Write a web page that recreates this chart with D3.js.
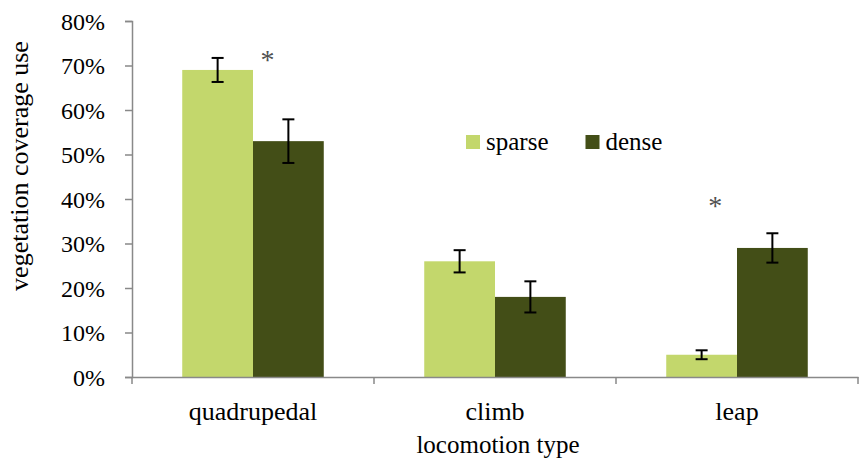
<!DOCTYPE html>
<html>
<head>
<meta charset="utf-8">
<script src="https://cdn.jsdelivr.net/npm/d3@7/dist/d3.min.js"></script>
</head>
<body style="margin:0; background:#fff">
<svg id="chart" width="859" height="464" style="font-family: 'Liberation Serif', serif"></svg>
<script>
// Locomotion categories and the two vegetation-density series
const categories = ["quadrupedal", "climb", "leap"];
const seriesNames = ["sparse", "dense"];
const sparseValues = [0.69, 0.26, 0.05];
const denseValues = [0.53, 0.18, 0.29];
const sparseErrors = [0.027, 0.025, 0.010];
const denseErrors = [0.049, 0.035, 0.033];
const yTicks = [0, 0.1, 0.2, 0.3, 0.4, 0.5, 0.6, 0.7, 0.8];
// Significance markers: category, horizontal offset within the band, level
const markers = [
  { category: "quadrupedal", offset: 0.56, level: 0.726 },
  { category: "leap", offset: 0.41, level: 0.398 }
];

const colors = { sparse: "#c3d76c", dense: "#434e17" };
const FONT = "Liberation Serif";

const svg = d3.select("#chart");
const margin = { left: 132, right: 1, top: 21, bottom: 87 };
const width = 859, height = 464;

const x = d3.scaleBand().domain(categories)
  .range([margin.left, width - margin.right]).paddingInner(0).paddingOuter(0);
const inner = d3.scaleBand().domain(seriesNames)
  .range([0, x.bandwidth()]).paddingInner(0).paddingOuter(0.71);
const y = d3.scaleLinear().domain([0, 0.8]).range([height - margin.bottom, margin.top]);

const data = categories.map((c, i) => ({
  category: c,
  values: [
    { series: "sparse", value: sparseValues[i], err: sparseErrors[i] },
    { series: "dense", value: denseValues[i], err: denseErrors[i] }
  ]
}));

// Y axis
const yAxis = d3.axisLeft(y).tickValues(yTicks)
  .tickFormat(d3.format(".0%")).tickSize(7).tickPadding(20);
const gy = svg.append("g").attr("transform", `translate(${margin.left},0)`).call(yAxis)
  .attr("font-family", FONT);
gy.select(".domain").attr("stroke", "#898989").attr("stroke-width", 1.5);
gy.selectAll(".tick line").attr("stroke", "#898989").attr("stroke-width", 1.5);
gy.selectAll(".tick text")
  .attr("font-family", FONT).attr("font-size", 24).attr("fill", "#000")
  .attr("dy", "0.34em");

// Bars
const groups = svg.append("g").selectAll("g").data(data).join("g")
  .attr("transform", d => `translate(${x(d.category)},0)`);

groups.selectAll("rect").data(d => d.values).join("rect")
  .attr("x", d => inner(d.series))
  .attr("width", inner.bandwidth())
  .attr("y", d => y(d.value))
  .attr("height", d => y(0) - y(d.value))
  .attr("fill", d => colors[d.series]);

// Error bars
const capHalf = 6;
const eb = groups.selectAll("g.err").data(d => d.values).join("g").attr("class", "err")
  .attr("stroke", "#000").attr("stroke-width", 2);
eb.append("line")
  .attr("x1", d => inner(d.series) + inner.bandwidth() / 2)
  .attr("x2", d => inner(d.series) + inner.bandwidth() / 2)
  .attr("y1", d => y(d.value + d.err))
  .attr("y2", d => y(d.value - d.err));
eb.append("line")
  .attr("x1", d => inner(d.series) + inner.bandwidth() / 2 - capHalf)
  .attr("x2", d => inner(d.series) + inner.bandwidth() / 2 + capHalf)
  .attr("y1", d => y(d.value + d.err)).attr("y2", d => y(d.value + d.err));
eb.append("line")
  .attr("x1", d => inner(d.series) + inner.bandwidth() / 2 - capHalf)
  .attr("x2", d => inner(d.series) + inner.bandwidth() / 2 + capHalf)
  .attr("y1", d => y(d.value - d.err)).attr("y2", d => y(d.value - d.err));

// X axis
const xAxis = d3.axisBottom(x).tickSize(0).tickPadding(25);
const gx = svg.append("g").attr("transform", `translate(0,${y(0)})`).call(xAxis)
  .attr("font-family", FONT);
gx.select(".domain").attr("stroke", "#898989").attr("stroke-width", 1.5);
gx.selectAll(".tick text")
  .attr("font-family", FONT).attr("font-size", 26).attr("fill", "#000");
// category boundary ticks
const bounds = categories.map(c => x(c)).concat([x.range()[1]]);
gx.selectAll("line.bound").data(bounds).join("line").attr("class", "bound")
  .attr("x1", d => d).attr("x2", d => d).attr("y1", 0).attr("y2", 7)
  .attr("stroke", "#898989").attr("stroke-width", 1.5);

// Significance markers
svg.append("g").selectAll("text").data(markers).join("text")
  .attr("x", d => x(d.category) + x.bandwidth() * d.offset)
  .attr("y", d => y(d.level) + 15)
  .attr("text-anchor", "middle")
  .attr("font-family", FONT).attr("font-size", 28).attr("fill", "#505050")
  .text("*");

// Axis titles
svg.append("text")
  .attr("x", (margin.left + width - margin.right) / 2 + 3)
  .attr("y", 453)
  .attr("text-anchor", "middle")
  .attr("font-family", FONT).attr("font-size", 25)
  .text("locomotion type");
svg.append("text")
  .attr("transform", `translate(28,166) rotate(-90)`)
  .attr("text-anchor", "middle")
  .attr("font-family", FONT).attr("font-size", 26)
  .text("vegetation coverage use");

// Legend
const legend = svg.append("g").attr("transform", "translate(466,135)");
const legendItems = legend.selectAll("g").data(seriesNames).join("g")
  .attr("transform", (d, i) => `translate(${i * 119.5},0)`);
legendItems.append("rect").attr("width", 14).attr("height", 14)
  .attr("fill", d => colors[d]);
legendItems.append("text").attr("x", 20).attr("y", 15)
  .attr("font-family", FONT).attr("font-size", 25).text(d => d);
</script>
</body>
</html>
